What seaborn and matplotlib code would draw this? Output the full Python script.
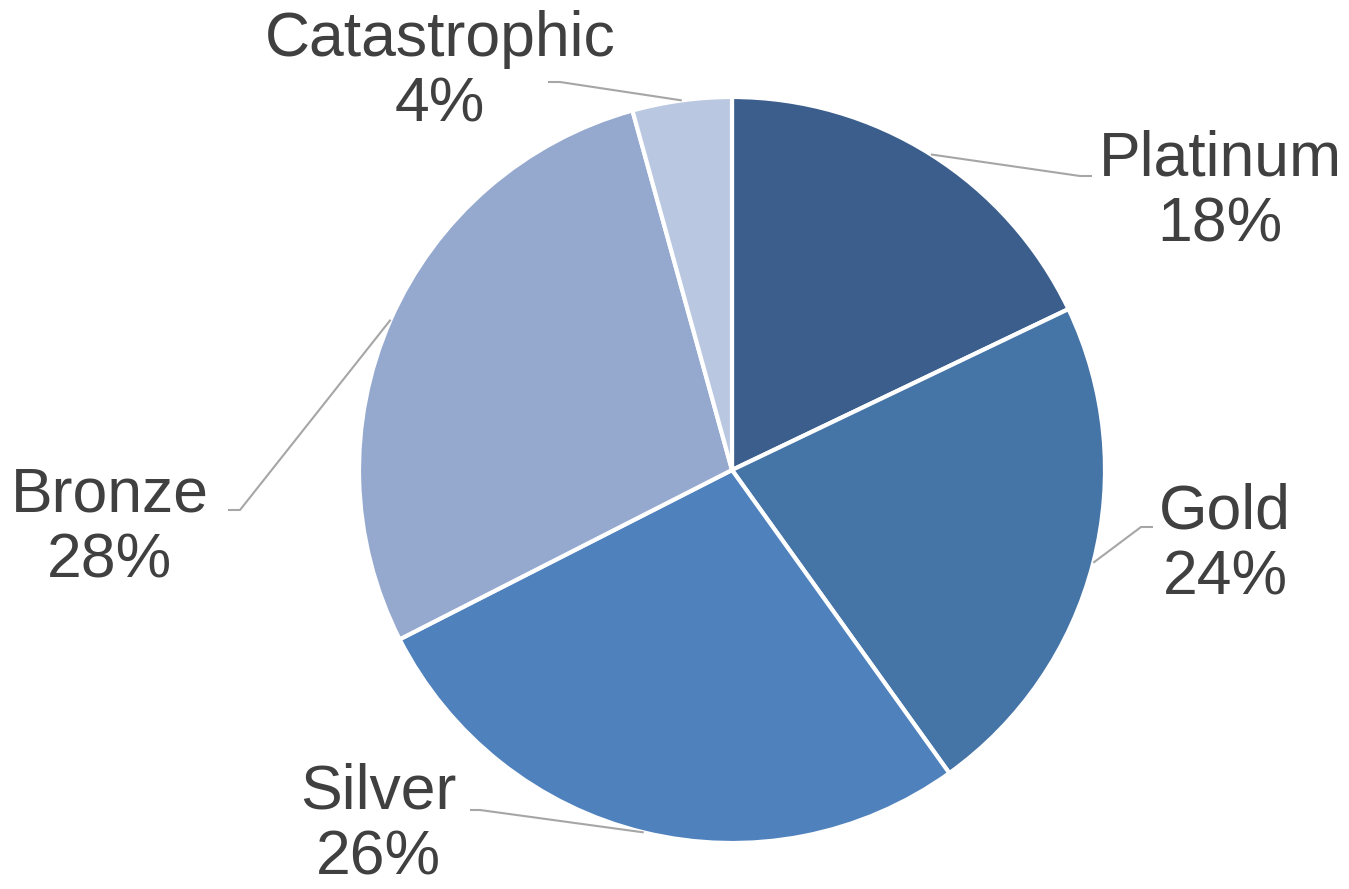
import numpy as np
import matplotlib
matplotlib.use("Agg")
import matplotlib.pyplot as plt
import seaborn as sns

sns.set_theme(style="white")
plt.rcParams['font.family'] = ['Liberation Sans', 'DejaVu Sans']

# slice data (clockwise from 12 o'clock)
tiers = ["Platinum", "Gold", "Silver", "Bronze", "Catastrophic"]
shares = [17.9, 22.2, 27.4, 28.2, 4.3]          # slice sizes as drawn
pct_labels = ["18%", "24%", "26%", "28%", "4%"]  # percentages as printed
colors = ["#3B5E8C", "#4574A7", "#4F81BD", "#95A9CF", "#B9C7E0"]

# label layout in pixels: text centre, elbow, end of leader
W, H = 1349, 889
cx, cy, R = 732, 470, 373
text_px = [(1220, 192), (1225, 545), (378, 825), (110, 528), (440, 72)]
elbow_px = [(1080, 176), (1141, 527), (480, 810), (240, 510), (560, 82)]
end_px = [(1092, 176), (1153, 527), (470, 810), (228, 510), (548, 82)]


def to_data(p):
    return ((p[0] - cx) / R, (cy - p[1]) / R)


fig = plt.figure(figsize=(W / 100, H / 100), dpi=100)
ax = fig.add_axes([0, 0, 1, 1])
wedges, _ = ax.pie(shares, colors=colors, startangle=90, counterclock=False,
                   radius=1, center=(0, 0),
                   wedgeprops=dict(edgecolor="white", linewidth=3))
ax.set_xlim(-cx / R, (W - cx) / R)
ax.set_ylim((cy - H) / R, cy / R)
ax.set_aspect("equal")
ax.axis("off")

for w, name, pct, tp, ep, endp in zip(wedges, tiers, pct_labels,
                                      text_px, elbow_px, end_px):
    mid = np.deg2rad((w.theta1 + w.theta2) / 2)
    x0, y0 = np.cos(mid), np.sin(mid)
    x1, y1 = to_data(ep)
    x2, y2 = to_data(endp)
    ax.plot([x0, x1, x2], [y0, y1, y2], color="#A6A6A6", lw=1.5,
            solid_capstyle="butt")
    tx, ty = to_data(tp)
    ax.text(tx, ty, f"{name}\n{pct}", ha="center", va="center",
            fontsize=45, color="#404040", linespacing=1.15)

fig.savefig("out.png", dpi=100)
